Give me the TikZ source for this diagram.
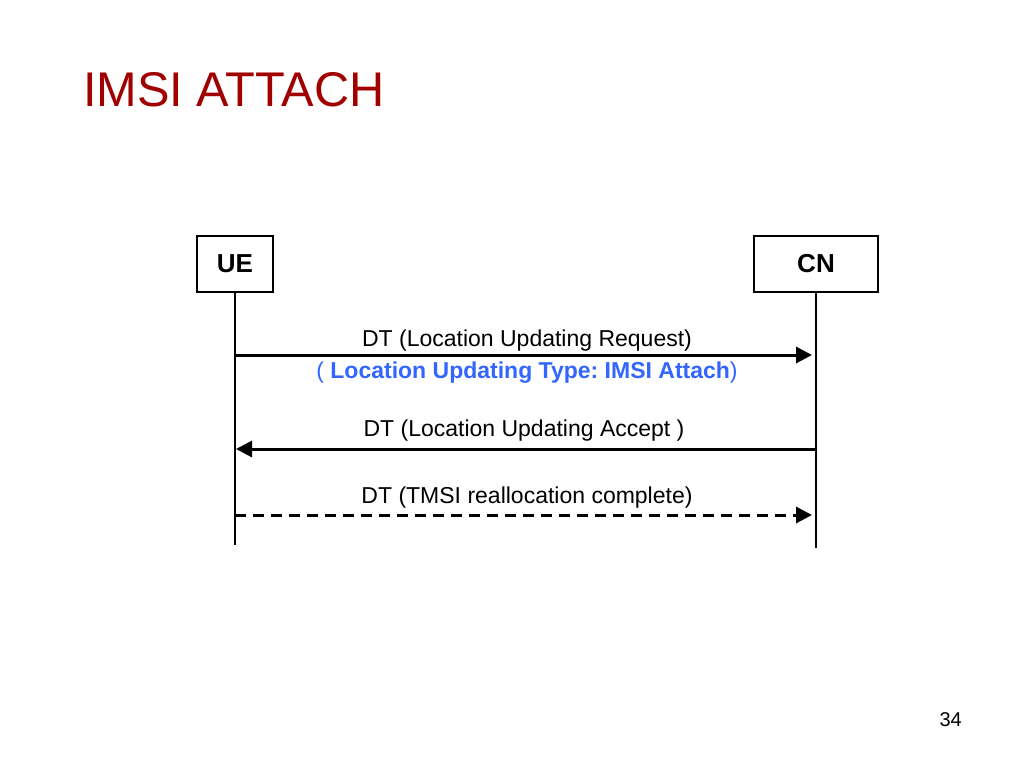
\documentclass[tikz,border=0pt]{standalone}
\usepackage{fontspec}
\setmainfont{Liberation Sans}
\usepackage{tikz}
\usetikzlibrary{positioning, arrows.meta}
\definecolor{titlered}{RGB}{160,0,0}
\definecolor{typeblue}{RGB}{51,102,255}
\frenchspacing

\begin{document}
\begin{tikzpicture}[
  x=1pt, y=-1pt,
  entity/.style={draw, line width=1.7pt, minimum height=56pt, inner sep=0pt, font=\fontsize{26}{30}\selectfont\bfseries},
  lifeline/.style={line width=1.6pt},
  msg/.style={line width=3pt, -{Triangle[length=16pt,width=16pt]}},
  msglabel/.style={anchor=base, inner sep=0pt, font=\fontsize{23}{27}\selectfont},
  >=Stealth
]
\useasboundingbox (0,0) rectangle (1024,768);

% Title and page number
\node[anchor=base west, inner sep=0pt, text=titlered, font=\fontsize{48.7}{56}\selectfont] (title) at (83,106) {IMSI ATTACH};
\node[anchor=base east, inner sep=0pt, font=\fontsize{20}{24}\selectfont] (pagenum) at (962,726) {34};

% Entities
\node[entity, minimum width=76pt] (ue) at (235,264) {UE};
\node[entity, minimum width=124pt] (cn) at (816,264) {CN};

% Lifelines
\coordinate (ueend) at (235,545);
\coordinate (cnend) at (816,548);
\draw[lifeline] (ue) -- (ueend);
\draw[lifeline] (cn) -- (cnend);

% Message end points
\coordinate (ue-req) at (235,355);
\coordinate (cn-req) at (812,355);
\coordinate (cn-acc) at (816,449);
\coordinate (ue-acc) at (236,449);
\coordinate (ue-cmp) at (235,515);
\coordinate (cn-cmp) at (812,515);

% Messages
\draw[msg] (ue-req) -- (cn-req);
\draw[msg] (cn-acc) -- (ue-acc);
\draw[msg, dash pattern=on 11pt off 7pt] (ue-cmp) -- (cn-cmp);

% Message labels
\node[msglabel] (reqlbl) at (527,346) {DT (Location Updating Request)};
\node[msglabel, text=typeblue] (typelbl) at (527,378) {( \textbf{Location Updating Type: IMSI Attach})};
\node[msglabel] (acclbl) at (524,436) {DT (Location Updating Accept )};
\node[msglabel] (cmplbl) at (527,503) {DT (TMSI reallocation complete)};

\end{tikzpicture}
\end{document}
